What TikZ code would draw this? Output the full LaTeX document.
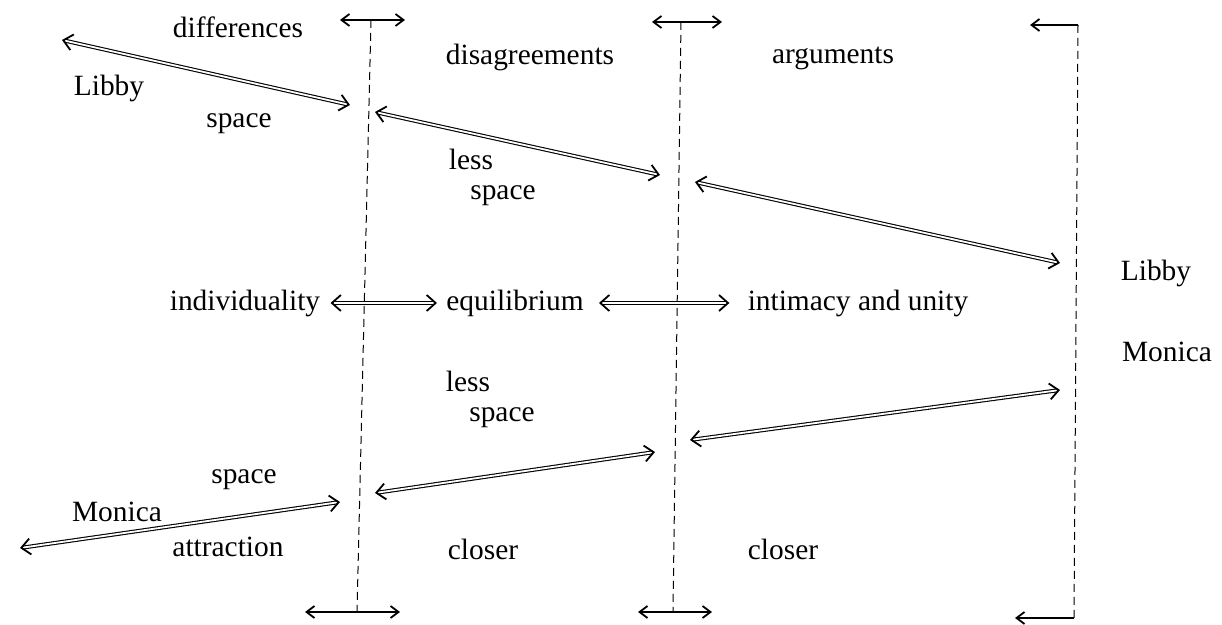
\documentclass[tikz,border=0pt]{standalone}
\usepackage{fontspec}
\setmainfont{Liberation Serif}
\usetikzlibrary{arrows.meta}
\begin{document}
\begin{tikzpicture}[
  x=0.5pt, y=-0.5pt,
  label/.style={
    inner sep=0pt,
    font=\fontsize{14.7}{17}\selectfont
  },
  divider/.style={dash pattern=on 4pt off 2.5pt, line width=0.5pt},
  dbl/.style={{Straight Barb[length=4.5pt,width=8pt,line width=0.9pt]}-{Straight Barb[length=4.5pt,width=8pt,line width=0.9pt]},
    double, double distance=0.9pt, line width=0.55pt},
  tick/.style={{Straight Barb[length=4pt,width=6pt]}-{Straight Barb[length=4pt,width=6pt]}, line width=0.9pt},
  ltick/.style={{Straight Barb[length=4pt,width=6pt]}-, line width=0.9pt}
]
\useasboundingbox (0,0) rectangle (1222,625);

% texts, upper half
\node[label] (diff) at (238,27) {differences};
\node[label] (libbyL) at (109,88) {Libby};
\node[label] (spaceA) at (239,124) {space};
\node[label] (disag) at (530,57) {disagreements};
\node[label] (argu) at (833,58) {arguments};
\node[label] (lessA) at (471,159) {less};
\node[label] (spaceB) at (503,196) {space};
\node[label] (libbyR) at (1156,273) {Libby};

% middle row
\node[label] (indiv) at (245,303) {individuality};
\node[label] (equil) at (515,303) {equilibrium};
\node[label] (intim) at (858,303) {intimacy and unity};

% texts, lower half
\node[label] (monicaR) at (1167,352) {Monica};
\node[label] (lessB) at (468,381) {less};
\node[label] (spaceC) at (502,418) {space};
\node[label] (spaceD) at (244,480) {space};
\node[label] (monicaL) at (117,512) {Monica};
\node[label] (attr) at (228,547) {attraction};
\node[label] (closerA) at (483,549) {closer};
\node[label] (closerB) at (783,549) {closer};

% the three dividers
\coordinate (d1t) at (371,20);  \coordinate (d1b) at (357,612);
\coordinate (d2t) at (681,22);  \coordinate (d2b) at (673,612);
\coordinate (d3t) at (1078,25); \coordinate (d3b) at (1074,618);
\draw[divider] (d1t) -- (d1b);
\draw[divider] (d2t) -- (d2b);
\draw[divider] (d3t) -- (d3b);

% end marks
\coordinate (e1l) at (340,20);  \coordinate (e1r) at (405,20);
\coordinate (e2l) at (652,22);  \coordinate (e2r) at (722,22);
\coordinate (e3l) at (1030,25);
\coordinate (f1l) at (305,612); \coordinate (f1r) at (400,612);
\coordinate (f2l) at (638,612); \coordinate (f2r) at (712,612);
\coordinate (f3l) at (1015,618);
\draw[tick] (e1l) -- (e1r);
\draw[tick] (e2l) -- (e2r);
\draw[ltick] (e3l) -- (d3t);
\draw[tick] (f1l) -- (f1r);
\draw[tick] (f2l) -- (f2r);
\draw[ltick] (f3l) -- (d3b);

% Libby moving apart
\coordinate (pa0) at (62,40);   \coordinate (pa1) at (350,105);
\coordinate (pa2) at (375,112); \coordinate (pa3) at (660,175);
\coordinate (pa4) at (695,182); \coordinate (pa5) at (1060,263);
\draw[dbl] (pa0) -- (pa1);
\draw[dbl] (pa2) -- (pa3);
\draw[dbl] (pa4) -- (pa5);

% Monica moving closer
\coordinate (pb0) at (20,548);  \coordinate (pb1) at (340,502);
\coordinate (pb2) at (375,493); \coordinate (pb3) at (655,452);
\coordinate (pb4) at (690,440); \coordinate (pb5) at (1060,390);
\draw[dbl] (pb0) -- (pb1);
\draw[dbl] (pb2) -- (pb3);
\draw[dbl] (pb4) -- (pb5);

\draw[dbl, shorten <=5pt, shorten >=4.5pt] (indiv.east) -- (equil.west);
\draw[dbl, shorten <=7.5pt, shorten >=9pt] (equil.east) -- (intim.west);
\end{tikzpicture}
\end{document}
